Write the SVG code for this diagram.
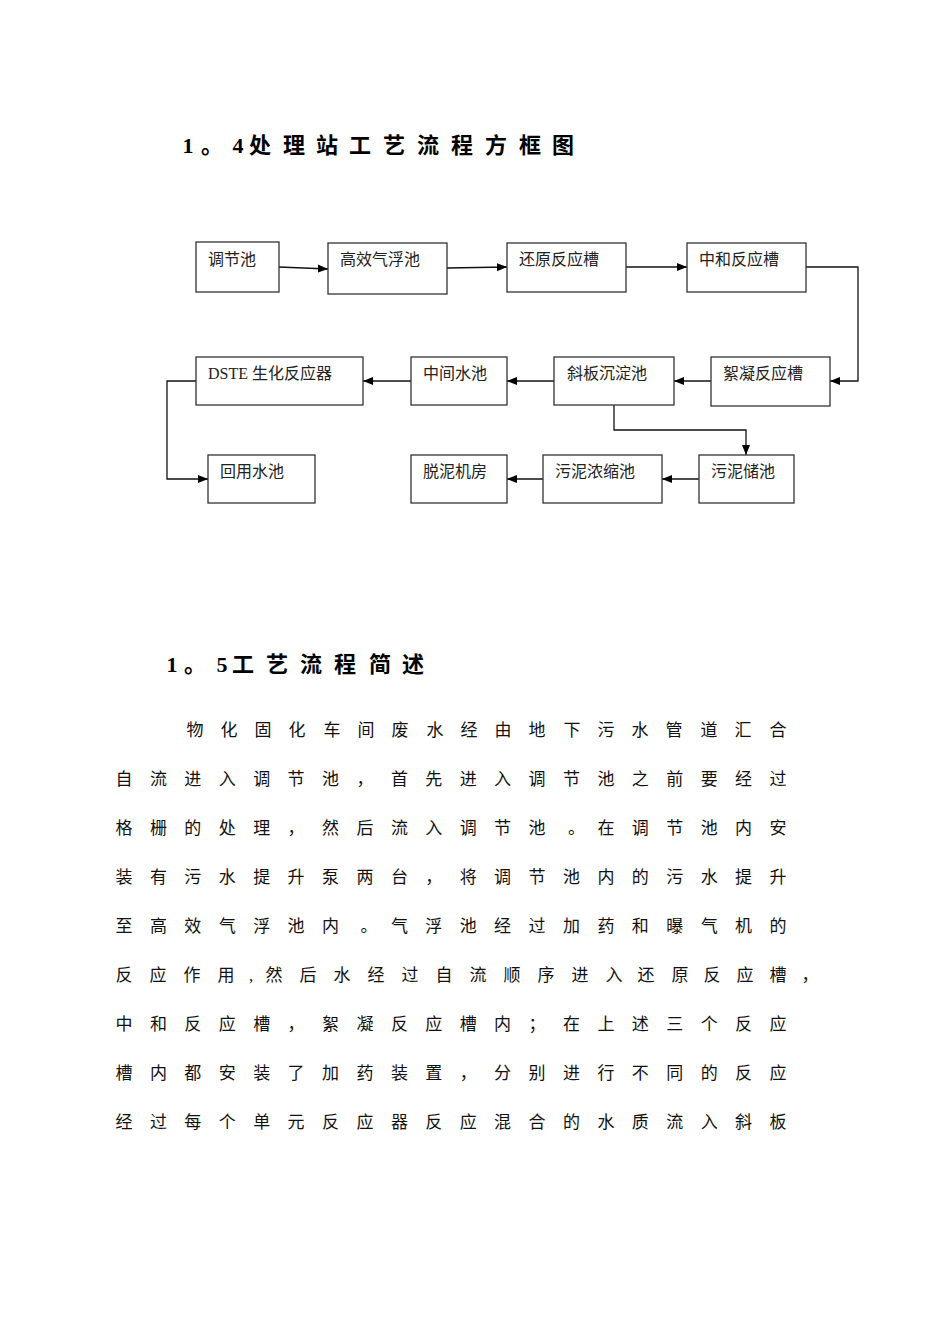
<svg xmlns="http://www.w3.org/2000/svg" width="950" height="1344" viewBox="0 0 950 1344">
<style>
.bg{fill:#ffffff}
.box{fill:#ffffff;stroke:#333333;stroke-width:1.3}
.lbl{font-family:"Liberation Serif","Noto Sans CJK SC",serif;font-size:16px;fill:#222222}
.ttl{font-family:"Liberation Serif","Noto Sans CJK SC",serif;font-size:22px;font-weight:bold;fill:#000000;text-anchor:middle}
.body{font-family:"Liberation Serif","Noto Sans CJK SC",serif;font-size:17px;fill:#111111;text-anchor:middle}
.con{fill:none;stroke:#111111;stroke-width:1.3}
</style>
<defs>
<marker id="arr" viewBox="0 0 10 10" refX="10" refY="5" markerWidth="10" markerHeight="10" markerUnits="userSpaceOnUse" orient="auto">
<path d="M0,1 L10,5 L0,9 Z" fill="#000000"/>
</marker>
</defs>
<rect class="bg" x="0" y="0" width="950" height="1344"/>

<text class="ttl" y="153" x="188 212 238 260 294 327 360 394 428 462 496 530 563">1。4处理站工艺流程方框图</text>

<g id="connectors">
<path class="con" d="M279,267 L328,269" marker-end="url(#arr)"/>
<path class="con" d="M447,268 L507,267" marker-end="url(#arr)"/>
<path class="con" d="M626,267 L687,267" marker-end="url(#arr)"/>
<path class="con" d="M806,267 L858,267 L858,381 L830,381" marker-end="url(#arr)"/>
<path class="con" d="M711,381 L674,381" marker-end="url(#arr)"/>
<path class="con" d="M554,381 L507,381" marker-end="url(#arr)"/>
<path class="con" d="M411,381 L363,381" marker-end="url(#arr)"/>
<path class="con" d="M196,381 L167,381 L167,479 L208,479" marker-end="url(#arr)"/>
<path class="con" d="M614,405 L614,430 L746,430 L746,455" marker-end="url(#arr)"/>
<path class="con" d="M699,479 L662,479" marker-end="url(#arr)"/>
<path class="con" d="M543,479 L507,479" marker-end="url(#arr)"/>
</g>

<g id="n1"><rect class="box" x="196" y="242" width="83" height="50"/><text class="lbl" x="208" y="265">调节池</text></g>
<g id="n2"><rect class="box" x="328" y="243" width="119" height="51"/><text class="lbl" x="340" y="265">高效气浮池</text></g>
<g id="n3"><rect class="box" x="507" y="243" width="119" height="49"/><text class="lbl" x="519" y="265">还原反应槽</text></g>
<g id="n4"><rect class="box" x="687" y="243" width="119" height="49"/><text class="lbl" x="699" y="265">中和反应槽</text></g>
<g id="n5"><rect class="box" x="711" y="357" width="119" height="49"/><text class="lbl" x="723" y="379">絮凝反应槽</text></g>
<g id="n6"><rect class="box" x="554" y="357" width="120" height="48"/><text class="lbl" x="567" y="379">斜板沉淀池</text></g>
<g id="n7"><rect class="box" x="411" y="357" width="96" height="48"/><text class="lbl" x="423" y="379">中间水池</text></g>
<g id="n8"><rect class="box" x="196" y="357" width="167" height="48"/><text class="lbl" x="208" y="379">DSTE 生化反应器</text></g>
<g id="n9"><rect class="box" x="208" y="455" width="107" height="48"/><text class="lbl" x="220" y="477">回用水池</text></g>
<g id="n10"><rect class="box" x="411" y="455" width="96" height="48"/><text class="lbl" x="423" y="477">脱泥机房</text></g>
<g id="n11"><rect class="box" x="543" y="455" width="119" height="48"/><text class="lbl" x="555" y="477">污泥浓缩池</text></g>
<g id="n12"><rect class="box" x="699" y="455" width="95" height="48"/><text class="lbl" x="711" y="477">污泥储池</text></g>

<text class="ttl" y="672" x="172 195 222 243 277 311 345 380 413">1。5工艺流程简述</text>

<text class="body" y="736" x="195 229 263 297 332 366 400 435 469 503 537 572 606 640 674 709 743 778">物化固化车间废水经由地下污水管道汇合</text>
<text class="body" y="785" x="124 158.4 192.8 227.3 261.7 296.1 330.5 365 399.4 433.8 468.2 502.6 537.1 571.5 605.9 640.3 674.7 709.2 743.6 778">自流进入调节池，首先进入调节池之前要经过</text>
<text class="body" y="834" x="124 158.4 192.8 227.3 261.7 296.1 330.5 365 399.4 433.8 468.2 502.6 537.1 576.5 605.9 640.3 674.7 709.2 743.6 778">格栅的处理，然后流入调节池。在调节池内安</text>
<text class="body" y="883" x="124 158.4 192.8 227.3 261.7 296.1 330.5 365 399.4 433.8 468.2 502.6 537.1 571.5 605.9 640.3 674.7 709.2 743.6 778">装有污水提升泵两台，将调节池内的污水提升</text>
<text class="body" y="932" x="124 158.4 192.8 227.3 261.7 296.1 330.5 369 399.4 433.8 468.2 502.6 537.1 571.5 605.9 640.3 674.7 709.2 743.6 778">至高效气浮池内。气浮池经过加药和曝气机的</text>
<text class="body" y="981" x="124 158 192 226 251 274 308 342 376 410 444 478 512 546 580 614 646 680 712 745 778 810">反应作用,然后水经过自流顺序进入还原反应槽，</text>
<text class="body" y="1030" x="124 158.4 192.8 227.3 261.7 296.1 330.5 365 399.4 433.8 468.2 502.6 537.1 571.5 605.9 640.3 674.7 709.2 743.6 778">中和反应槽，絮凝反应槽内；在上述三个反应</text>
<text class="body" y="1079" x="124 158.4 192.8 227.3 261.7 296.1 330.5 365 399.4 433.8 468.2 502.6 537.1 571.5 605.9 640.3 674.7 709.2 743.6 778">槽内都安装了加药装置，分别进行不同的反应</text>
<text class="body" y="1128" x="124 158.4 192.8 227.3 261.7 296.1 330.5 365 399.4 433.8 468.2 502.6 537.1 571.5 605.9 640.3 674.7 709.2 743.6 778">经过每个单元反应器反应混合的水质流入斜板</text>
</svg>
